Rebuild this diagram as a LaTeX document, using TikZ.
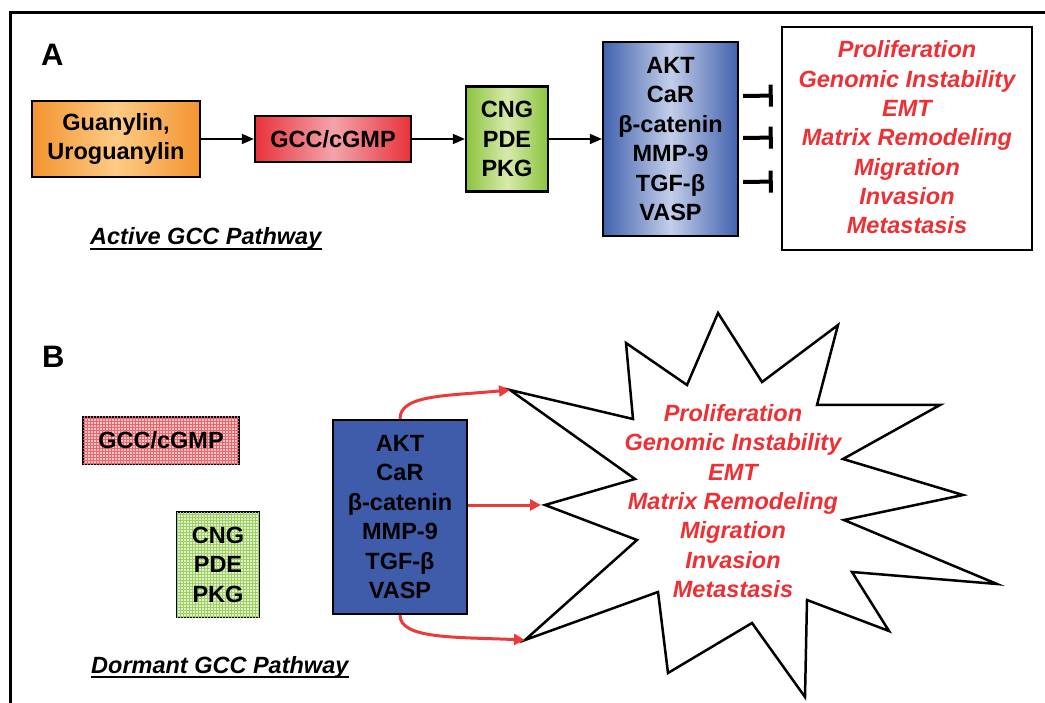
\documentclass[tikz,border=0pt]{standalone}
\usepackage{fontspec}
\setmainfont{Liberation Sans}
\usetikzlibrary{arrows.meta,patterns,calc}
\definecolor{orgE}{HTML}{F39430}
\definecolor{orgC}{HTML}{FDCB85}
\definecolor{redE}{HTML}{E8323A}
\definecolor{redC}{HTML}{F4A3AB}
\definecolor{grnE}{HTML}{8AC43F}
\definecolor{grnC}{HTML}{D8EAAB}
\definecolor{bluE}{HTML}{4262AE}
\definecolor{bluC}{HTML}{C3CEE9}
\definecolor{bluD}{HTML}{3F5CAA}
\definecolor{txtR}{HTML}{EE3035}
\definecolor{arrR}{HTML}{EA3A3A}
\definecolor{pinkF}{HTML}{F8C4C6}
\definecolor{pinkG}{HTML}{E8676C}
\definecolor{lgrF}{HTML}{E0F1C6}
\definecolor{lgrG}{HTML}{A0CE66}
\begin{document}
\begin{tikzpicture}[x=1pt,y=-1pt,
  lbl/.style={font=\fontsize{23.5pt}{29.5pt}\selectfont\bfseries, align=center},
  box/.style={lbl, draw=black, line width=2.2pt, inner sep=0pt, rectangle},
  redlbl/.style={font=\fontsize{23.5pt}{29.3pt}\selectfont\bfseries\itshape, align=center, text=txtR, inner sep=0pt},
  title/.style={font=\fontsize{23.5pt}{29pt}\selectfont\bfseries\itshape, inner sep=0pt, anchor=base west},
  panel/.style={font=\fontsize{31pt}{31pt}\selectfont\bfseries, inner sep=0pt, anchor=base west},
  blkarr/.style={line width=1.5pt, -{Triangle[length=12pt,width=10pt]}},
  inhib/.style={line width=4pt, -{Bar[width=22pt]}, shorten <=4pt, shorten >=8pt},
  redarr/.style={draw=arrR, line width=3pt, -{Triangle[length=11pt,width=11pt]}},
  uline/.style={line width=2pt}
]
\useasboundingbox (0,0) rectangle (1045,703);
% frame
\draw[line width=2.8pt] (10.5,703) -- (10.5,12.3) -- (1045,12.3);

% ---------- Panel A ----------
\node[panel] (pA) at (41,66) {A};
\node[box, minimum width=168pt, minimum height=76pt, left color=orgE, right color=orgE, middle color=orgC] (guan) at (116,139) {Guanylin,\\Uroguanylin};
\node[box, minimum width=156pt, minimum height=46pt, left color=redE, right color=redE, middle color=redC] (gcc) at (333,139) {GCC/cGMP};
\node[box, minimum width=82pt, minimum height=105pt, left color=grnE, right color=grnE, middle color=grnC] (cng) at (507,139) {CNG\\PDE\\PKG};
\node[box, minimum width=135pt, minimum height=194pt, left color=bluE, right color=bluE, middle color=bluC] (akt) at (670.5,139) {AKT\\CaR\\β-catenin\\MMP-9\\TGF-β\\VASP};
\node[draw=black, line width=2.5pt, minimum width=250pt, minimum height=223pt, inner sep=0pt] (out) at (907,138.5) {};
\node[redlbl] (outtxt) at (907,137.5) {Proliferation\\Genomic Instability\\EMT\\Matrix Remodeling\\Migration\\Invasion\\Metastasis};

\draw[blkarr] (guan) -- (gcc);
\draw[blkarr] (gcc) -- (cng);
\draw[blkarr] (cng) -- (akt);
\draw[inhib] ([yshift=43pt]akt.east) -- ([yshift=43pt]out.west);
\draw[inhib] ([yshift=1pt]akt.east) -- ([yshift=1pt]out.west);
\draw[inhib] ([yshift=-43pt]akt.east) -- ([yshift=-43pt]out.west);

\node[title] (actT) at (90,245) {Active GCC Pathway};
\draw[uline] ([yshift=-4pt]actT.base west) -- ([yshift=-4pt]actT.base east);

% ---------- Panel B ----------
\node[panel] (pB) at (42,368) {B};
\node[box, minimum width=156pt, minimum height=47pt, fill=pinkF, postaction={pattern=grid, pattern color=pinkG}] (gcc2) at (161,440.5) {GCC/cGMP};
\node[box, minimum width=82pt, minimum height=105pt, fill=lgrF, postaction={pattern=grid, pattern color=lgrG}] (cng2) at (218,564.5) {CNG\\PDE\\PKG};
\node[box, minimum width=134pt, minimum height=194pt, fill=bluD] (akt2) at (400,517) {AKT\\CaR\\β-catenin\\MMP-9\\TGF-β\\VASP};

% star
\coordinate (s1) at (510,390);
\coordinate (sM) at (545,505);
\coordinate (sB) at (525,640);
\draw[line width=2.5pt, fill=white, line join=miter] (s1) -- (633,419) -- (626,343) -- (687,385) -- (718,313) -- (762,382) -- (838,325) -- (817,405) -- (940,405) -- (843,459) -- (963,495) -- (844,520) -- (997,584) -- (852,572) -- (889,631) -- (807,600) -- (805,697) -- (752,623) -- (668,673) -- (658,592) -- (sB) -- (637,540) -- (sM) -- (635,479) -- cycle;
\node[redlbl] (startxt) at (733,501) {Proliferation\\Genomic Instability\\EMT\\Matrix Remodeling\\Migration\\Invasion\\Metastasis};

\draw[redarr] (akt2.north) .. controls +(0,-24) and +(-65,6) .. (s1);
\draw[redarr, shorten >=4pt] (akt2.east |- sM) -- (sM);
\draw[redarr] (akt2.south) .. controls +(0,24) and +(-70,-3) .. (sB);

\node[title] (dorT) at (91,673) {Dormant GCC Pathway};
\draw[uline] ([yshift=-4pt]dorT.base west) -- ([yshift=-4pt]dorT.base east);
\end{tikzpicture}
\end{document}
